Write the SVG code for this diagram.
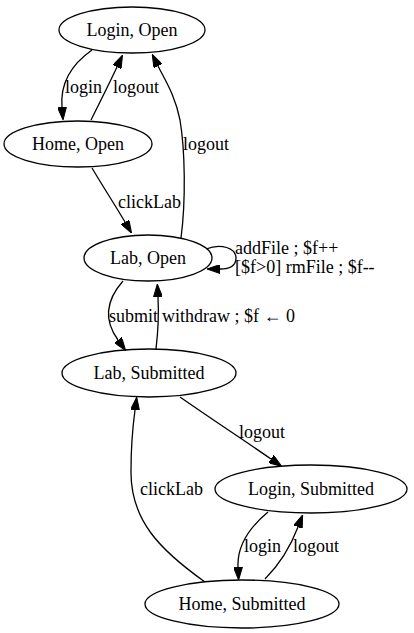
<svg xmlns="http://www.w3.org/2000/svg" width="414" height="633" viewBox="0 0 414 633" font-family="'Liberation Serif', 'Times New Roman', Times, serif" font-size="18">
<style>
text{font-family:'Liberation Serif','Times New Roman',Times,serif;font-size:18px;fill:#000}
.node ellipse{fill:none;stroke:#000;stroke-width:1.3}
.node text{text-anchor:middle}
.edge path{fill:none;stroke:#000;stroke-width:1.3}
</style>
<defs>
<marker id="ah" markerUnits="userSpaceOnUse" viewBox="0 0 13 9" refX="0" refY="4.5" markerWidth="13" markerHeight="9" orient="auto">
<path d="M0,0 L13,4.5 L0,9 z" fill="#000" stroke="#000" stroke-width="1"/>
</marker>
</defs>
<rect width="414" height="633" fill="#fff"/>
<g id="edges" class="edge">
<path d="M92,50 C72,64 60,82 62,107" marker-end="url(#ah)"/>
<text x="65" y="93">login</text>
<path d="M91,120 C100,102 110,82 117,67" marker-end="url(#ah)"/>
<text x="113" y="93">logout</text>
<path d="M181,238 C186,200 185,150 180,120 C175,95 165,80 158,66" marker-end="url(#ah)"/>
<text x="183" y="150">logout</text>
<path d="M92,168 C102,185 115,205 125,222" marker-end="url(#ah)"/>
<text x="118" y="208">clickLab</text>
<path d="M206,249 C221,243 236,248 236,258 C236,266 229,269 220,269" marker-end="url(#ah)"/>
<text x="235" y="254">addFile ; $f++</text>
<text x="235" y="273">[$f&gt;0] rmFile ; $f--</text>
<path d="M123,281 C108,298 102,318 118,340" marker-end="url(#ah)"/>
<text x="109" y="322">submit</text>
<path d="M156,349 C158,332 159,315 158,297" marker-end="url(#ah)"/>
<text x="162" y="322">withdraw ; $f ← 0</text>
<path d="M180,397 C210,418 245,441 271,459" marker-end="url(#ah)"/>
<text x="239" y="438">logout</text>
<path d="M205,582 C160,550 130,520 131,470 C131,440 133,425 135,410" marker-end="url(#ah)"/>
<text x="140" y="495">clickLab</text>
<path d="M268,512 C250,527 237,545 238,567" marker-end="url(#ah)"/>
<text x="244" y="552">login</text>
<path d="M265,579 C278,566 290,548 298,527" marker-end="url(#ah)"/>
<text x="293" y="552">logout</text>
</g>
<g id="login_open" class="node"><ellipse cx="132" cy="30" rx="73" ry="23"/><text x="132" y="36">Login, Open</text></g>
<g id="home_open" class="node"><ellipse cx="78" cy="144" rx="74" ry="23"/><text x="78" y="150">Home, Open</text></g>
<g id="lab_open" class="node"><ellipse cx="148" cy="258" rx="64" ry="23"/><text x="148" y="264">Lab, Open</text></g>
<g id="lab_submitted" class="node"><ellipse cx="149" cy="373" rx="87" ry="24"/><text x="149" y="379">Lab, Submitted</text></g>
<g id="login_submitted" class="node"><ellipse cx="311" cy="489" rx="96" ry="24"/><text x="311" y="495">Login, Submitted</text></g>
<g id="home_submitted" class="node"><ellipse cx="242" cy="604" rx="97" ry="24"/><text x="242" y="610">Home, Submitted</text></g>
</svg>
